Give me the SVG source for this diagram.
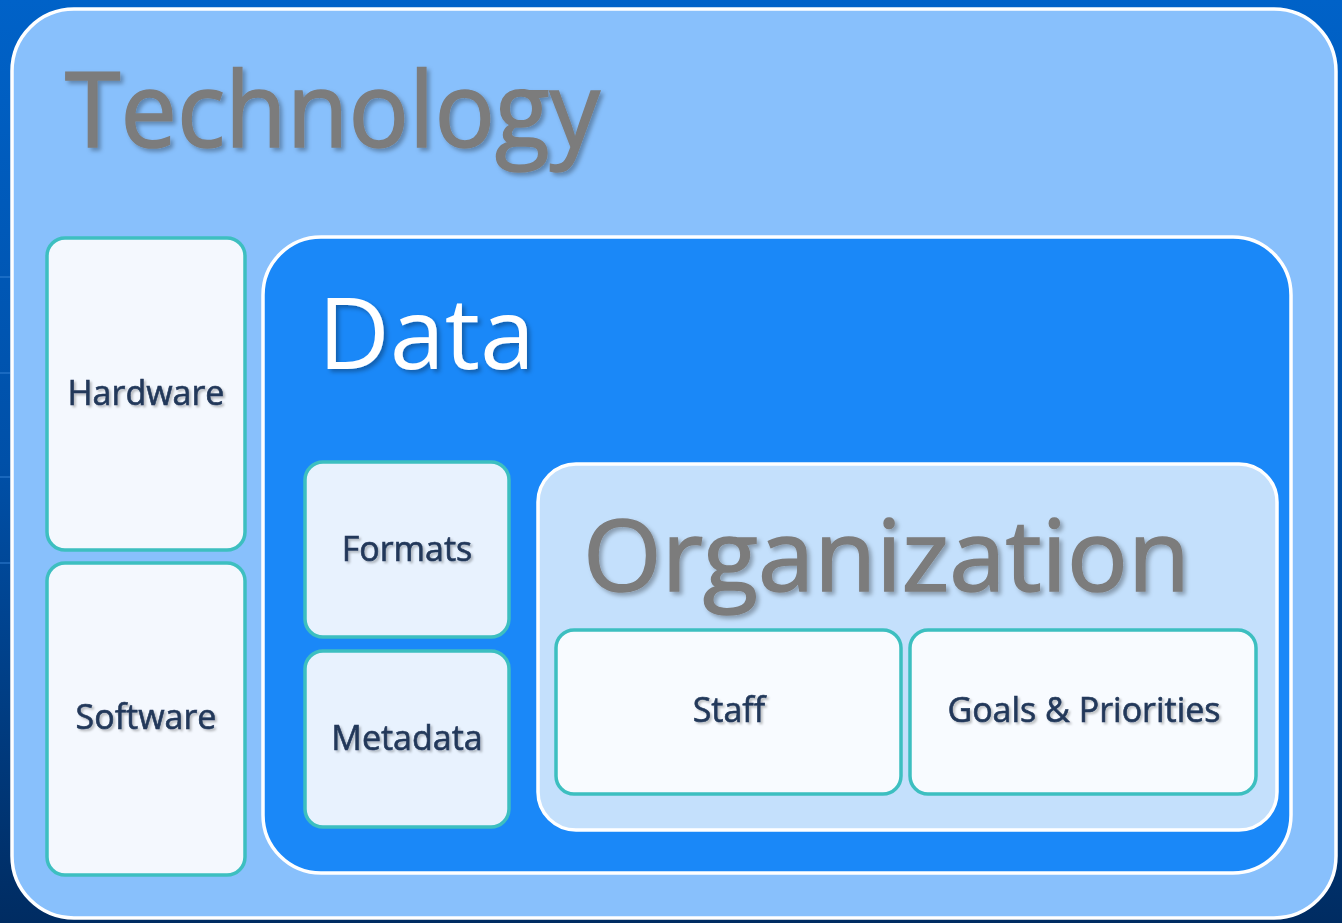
<svg xmlns="http://www.w3.org/2000/svg" width="1342" height="923" viewBox="0 0 1342 923">
  <defs>
    <linearGradient id="bg" x1="0" y1="0" x2="0" y2="1">
      <stop offset="0" stop-color="#0062c8"/>
      <stop offset="0.5" stop-color="#0050a8"/>
      <stop offset="1" stop-color="#002c62"/>
    </linearGradient>
    <filter id="shadow" x="-5%" y="-10%" width="115%" height="130%">
      <feDropShadow dx="3" dy="3" stdDeviation="2" flood-color="#000000" flood-opacity="0.3"/>
    </filter>
    <filter id="soft" x="-5%" y="-20%" width="115%" height="150%">
      <feDropShadow dx="2" dy="2" stdDeviation="1.2" flood-color="#000000" flood-opacity="0.25"/>
    </filter>
  </defs>
  <style>
    .title { font-family: "Open Sans", "DejaVu Sans", sans-serif; font-weight: 400; }
    .gray { fill: #7c7c7c; stroke: #7c7c7c; stroke-width: 1.6; }
    .white { fill: #ffffff; }
    .label { font-family: "Open Sans", "DejaVu Sans", sans-serif; font-size: 34px; fill: #22385a; text-anchor: middle; font-weight: 400; stroke: #22385a; stroke-width: 0.6; }
    .frame { stroke: #ffffff; stroke-width: 3.5; }
    .leaf { stroke: #3dbfc0; stroke-width: 3.5; }
    .deco { stroke: #3a86d8; stroke-width: 1.5; opacity: 0.6; }
  </style>

  <rect x="0" y="0" width="1342" height="923" fill="url(#bg)"/>
  <g id="background-lines">
    <line class="deco" x1="0" y1="277" x2="10" y2="277"/>
    <line class="deco" x1="0" y1="373" x2="10" y2="373"/>
    <line class="deco" x1="0" y1="477" x2="10" y2="477"/>
    <line class="deco" x1="0" y1="563" x2="10" y2="563"/>
  </g>

  <g id="technology">
    <rect class="frame" x="12" y="9" width="1324" height="909" rx="62" fill="#88c0fc"/>
    <text class="title gray" x="65" y="147" font-size="104" textLength="535" lengthAdjust="spacingAndGlyphs" filter="url(#shadow)">Technology</text>
  </g>

  <g id="hardware">
    <rect class="leaf" x="47" y="238" width="198" height="312" rx="18" fill="#f4f8fe"/>
    <text class="label" x="146" y="405" filter="url(#soft)">Hardware</text>
  </g>

  <g id="software">
    <rect class="leaf" x="47" y="563" width="198" height="312" rx="18" fill="#f4f8fe"/>
    <text class="label" x="146" y="729" filter="url(#soft)">Software</text>
  </g>

  <g id="data">
    <rect class="frame" x="263" y="237" width="1028" height="636" rx="58" fill="#1a88f8"/>
    <text class="title white" x="318" y="369" font-size="98" textLength="217" lengthAdjust="spacingAndGlyphs" filter="url(#shadow)">Data</text>
  </g>

  <g id="formats">
    <rect class="leaf" x="305" y="462" width="204" height="175" rx="18" fill="#e8f2fe"/>
    <text class="label" x="407" y="561" filter="url(#soft)">Formats</text>
  </g>

  <g id="metadata">
    <rect class="leaf" x="305" y="651" width="204" height="176" rx="18" fill="#e8f2fe"/>
    <text class="label" x="407" y="750" filter="url(#soft)">Metadata</text>
  </g>

  <g id="organization">
    <rect class="frame" x="538" y="464" width="739" height="366" rx="38" fill="#c4e0fc"/>
    <text class="title gray" x="583" y="591" font-size="98" textLength="607" lengthAdjust="spacingAndGlyphs" filter="url(#shadow)">Organization</text>
  </g>

  <g id="staff">
    <rect class="leaf" x="556" y="630" width="345" height="164" rx="18" fill="#f8fbff"/>
    <text class="label" x="729" y="722" filter="url(#soft)">Staff</text>
  </g>

  <g id="goals">
    <rect class="leaf" x="910" y="630" width="346" height="164" rx="18" fill="#f8fbff"/>
    <text class="label" x="1084" y="722" filter="url(#soft)">Goals &amp; Priorities</text>
  </g>

  <g id="connectors"/>
</svg>
